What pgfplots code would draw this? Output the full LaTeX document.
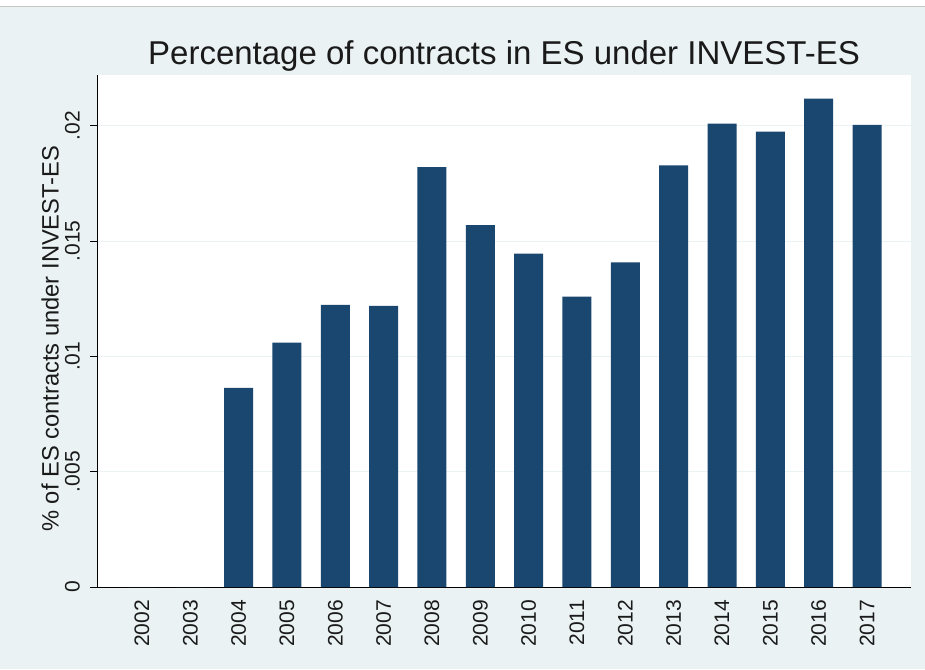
\documentclass[border=0pt]{standalone}
\usepackage{pgfplots}
\pgfplotsset{compat=1.18}
\usepackage{fontspec}
\setmainfont{Liberation Sans}
\definecolor{bgcol}{HTML}{EAF2F3}
\definecolor{barcol}{HTML}{1A476F}
\definecolor{txtcol}{HTML}{1A1A1A}
\begin{document}
\begin{tikzpicture}[x=1pt,y=1pt]
\useasboundingbox (0,0) rectangle (925,669);
\fill[bgcol] (0,0) rectangle (925,669);
\fill[white] (0,662) rectangle (925,669);
\draw[gray!45, line width=1pt] (0,662) -- (925,662);
\begin{axis}[
  at={(97pt,82pt)}, anchor=south west,
  scale only axis, width=814pt, height=512pt,
  xmin=-0.93, xmax=15.91, ymin=0, ymax=0.0222,
  axis background/.style={fill=white},
  axis x line*=bottom, axis y line*=left,
  axis line style={black, line width=0.9pt, -},
  ybar, bar width=29pt,
  xtick={0,...,15},
  xticklabels={2002,2003,2004,2005,2006,2007,2008,2009,2010,2011,2012,2013,2014,2015,2016,2017},
  ytick={0,0.005,0.01,0.015,0.02},
  yticklabels={0,.005,.01,.015,.02},
  scaled y ticks=false,
  tick align=outside, major tick length=7pt,
  xtick style={draw=none},
  ytick style={black, line width=0.9pt},
  ymajorgrids, grid style={bgcol, line width=1pt},
  xticklabel style={rotate=90, anchor=east, inner sep=0pt, font=\fontsize{21}{24}\selectfont, text=txtcol},
  yticklabel style={rotate=90, anchor=south, inner sep=0pt, font=\fontsize{21}{24}\selectfont, text=txtcol},
  xticklabel shift=6pt, yticklabel shift=10pt,
  /pgf/number format/assume math mode=true,
  ylabel={\% of ES contracts under INVEST-ES},
  ylabel style={at={(axis description cs:-0.0577,0.485)}, anchor=center, font=\fontsize{23.7}{28}\selectfont, text=txtcol},
  clip=false,
]
\addplot[fill=barcol, draw=none] coordinates {
(0,0) (1,0) (2,0.00863) (3,0.0106) (4,0.01223) (5,0.01219) (6,0.01821) (7,0.01569) (8,0.01445) (9,0.01259) (10,0.01407) (11,0.01828) (12,0.02009) (13,0.01974) (14,0.02117) (15,0.02004)
};
\end{axis}
\node[anchor=base, font=\fontsize{33}{38}\selectfont, text=txtcol, inner sep=0pt] at (504,604) {Percentage of contracts in ES under INVEST-ES};
\end{tikzpicture}
\end{document}
